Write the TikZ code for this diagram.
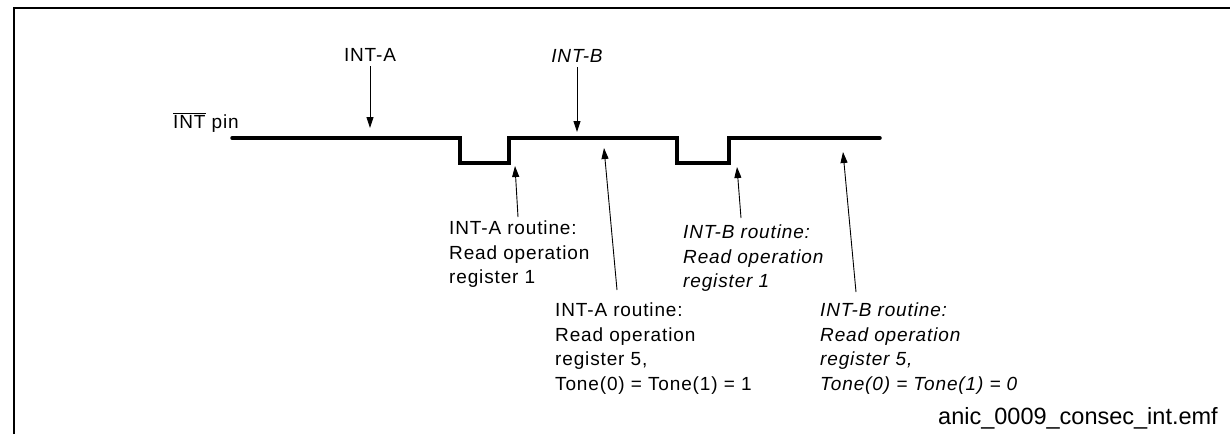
\documentclass[tikz,border=0pt]{standalone}
\usepackage{fontspec}
\setmainfont{Liberation Sans}[LetterSpace=4.5]
\newfontfamily\plainfont{Liberation Sans}
\usetikzlibrary{arrows.meta}
\begin{document}
\begin{tikzpicture}[x=1pt,y=-1pt,
  lbl/.style={font=\fontsize{19}{24.5}\selectfont, inner sep=0pt, align=left},
  ilbl/.style={lbl, font=\fontsize{19}{24.5}\selectfont\itshape},
  wave/.style={line width=3.5pt, line join=miter, line cap=round},
  arr/.style={line width=0.9pt, -{Triangle[length=11pt,width=7pt]}},
  frame/.style={line width=1.6pt}]
\useasboundingbox (0,0) rectangle (1230,434);
% frame
\coordinate (f1) at (14,434);
\coordinate (f2) at (14,8);
\coordinate (f3) at (1230,8);
\draw[frame] (f1) -- (f2) -- (f3);
% waveform
\coordinate (w0) at (232,138);
\coordinate (w1) at (460,138);
\coordinate (w2) at (460,163);
\coordinate (w3) at (509,163);
\coordinate (w4) at (509,138);
\coordinate (w5) at (677,138);
\coordinate (w6) at (677,163);
\coordinate (w7) at (729,163);
\coordinate (w8) at (729,138);
\coordinate (w9) at (880,138);
\draw[wave] (w0) -- (w1) -- (w2) -- (w3) -- (w4) -- (w5) -- (w6) -- (w7) -- (w8) -- (w9);
% labels
\node[lbl, anchor=base west] (pin) at (173,128) {$\overline{\mbox{INT}}$ pin};
\node[lbl, anchor=base, outer sep=5pt] (ia) at (370,61) {INT-A};
\node[ilbl, anchor=base, outer sep=5pt] (ib) at (577,62) {INT-B};
\coordinate (iat) at (370,128);
\coordinate (ibt) at (577,132);
\draw[arr] (ia.south) -- (iat);
\draw[arr] (ib.south) -- (ibt);
% text blocks
\node[lbl, anchor=north west] (a1) at (449,221) {INT-A routine:\\Read operation\\register 1};
\node[ilbl, anchor=north west] (b1) at (683,225) {INT-B routine:\\Read operation\\register 1};
\node[lbl, anchor=north west] (a2) at (555,303) {INT-A routine:\\Read operation\\register 5,\\Tone(0) = Tone(1) = 1};
\node[ilbl, anchor=north west] (b2) at (820,303) {INT-B routine:\\Read operation\\register 5,\\Tone(0) = Tone(1) = 0};
\node[inner sep=0pt, anchor=base east, font=\fontsize{23.5}{26}\selectfont\plainfont] (fn) at (1218,424) {anic\_0009\_consec\_int.emf};
% up arrows
\coordinate (a1s) at (518,217);
\coordinate (a1e) at (515,166);
\coordinate (a2s) at (617,290);
\coordinate (a2e) at (604,148);
\coordinate (b1s) at (741,218);
\coordinate (b1e) at (737,167);
\coordinate (b2s) at (856,292);
\coordinate (b2e) at (843,152);
\draw[arr] (a1s) -- (a1e);
\draw[arr] (a2s) -- (a2e);
\draw[arr] (b1s) -- (b1e);
\draw[arr] (b2s) -- (b2e);
\end{tikzpicture}
\end{document}
